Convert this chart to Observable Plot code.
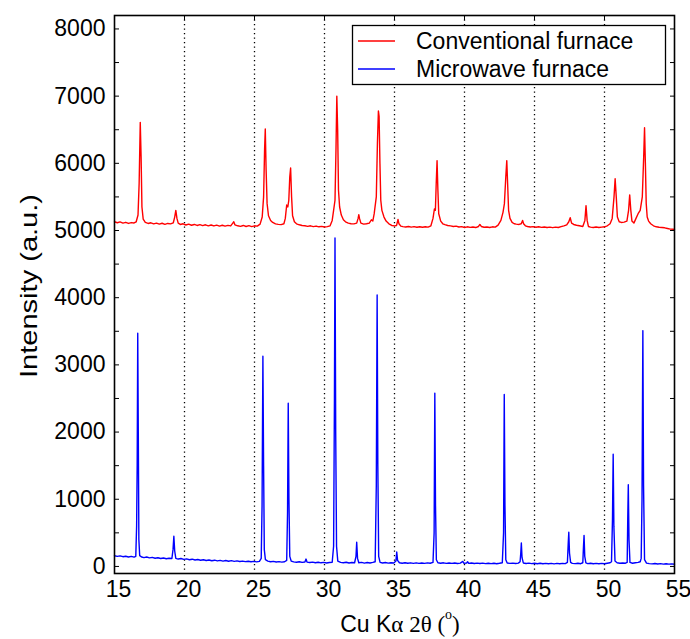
<!DOCTYPE html>
<html><head><meta charset="utf-8">
<script src="https://cdn.jsdelivr.net/npm/d3@7"></script>
<script src="https://cdn.jsdelivr.net/npm/@observablehq/plot@0.6"></script>
<style>body{margin:0;background:#fff} #chart{width:690px;height:639px}</style>
</head><body><div id="chart"></div>
<script>
// [2θ (deg), intensity (a.u.)]
const conventionalXRD = [
[15.0,5130],[15.2,5115],[15.4,5128],[15.6,5110],[15.8,5122],[16.0,5105],[16.2,5118],[16.4,5112],[16.55,5130],[16.68,5230],[16.76,5700],[16.84,6610],[16.9,6100],[16.96,5350],[17.05,5170],[17.2,5120],[17.4,5105],[17.6,5115],[17.8,5098],[18.0,5110],[18.2,5095],[18.4,5108],[18.6,5092],[18.8,5105],[19.0,5098],[19.2,5115],[19.3,5200],[19.38,5300],[19.46,5180],[19.55,5110],[19.7,5090],[19.9,5100],
[20.1,5082],[20.3,5095],[20.5,5078],[20.7,5090],[20.9,5075],[21.1,5088],[21.3,5072],[21.5,5085],[21.7,5070],[21.9,5082],[22.1,5068],[22.3,5080],[22.5,5066],[22.7,5078],[22.9,5065],[23.1,5076],[23.3,5068],[23.45,5110],[23.52,5130],[23.6,5085],[23.8,5070],[24.0,5062],[24.2,5075],[24.4,5060],[24.6,5072],[24.8,5058],[25.0,5070],[25.2,5065],[25.4,5095],[25.55,5200],[25.65,5500],[25.72,6200],[25.77,6510],[25.83,5900],[25.9,5400],[26.0,5220],[26.15,5150],[26.3,5120],[26.5,5098],[26.7,5092],[26.9,5088],[27.1,5100],[27.2,5180],[27.3,5380],[27.38,5350],[27.45,5450],[27.52,5800],[27.58,5930],[27.65,5500],[27.72,5220],[27.85,5130],[28.0,5100],[28.2,5085],[28.4,5075],[28.6,5070],[28.8,5062],[29.0,5070],[29.2,5058],[29.4,5066],[29.6,5055],[29.8,5062],
[30.0,5052],[30.2,5058],[30.4,5070],[30.55,5150],[30.65,5300],[30.75,5450],[30.82,6200],[30.88,7000],[30.94,6500],[31.0,5600],[31.08,5350],[31.2,5230],[31.35,5160],[31.5,5130],[31.7,5110],[31.9,5100],[32.1,5098],[32.3,5110],[32.4,5180],[32.45,5235],[32.5,5180],[32.6,5110],[32.8,5095],[33.0,5100],[33.2,5110],[33.35,5160],[33.45,5140],[33.55,5250],[33.7,5500],[33.78,6300],[33.85,6780],[33.9,6700],[33.96,6000],[34.02,5450],[34.1,5300],[34.25,5200],[34.4,5140],[34.6,5100],[34.8,5075],[35.0,5068],[35.15,5075],[35.25,5165],[35.32,5100],[35.45,5065],[35.6,5058],[35.8,5052],[36.0,5060],[36.2,5050],[36.4,5058],[36.6,5048],[36.8,5056],[37.0,5048],[37.2,5055],[37.4,5050],[37.6,5070],[37.75,5180],[37.85,5320],[37.92,5300],[37.98,5700],[38.04,6040],[38.1,5600],[38.16,5250],[38.3,5140],[38.45,5100],[38.6,5088],[38.8,5075],[39.0,5068],[39.2,5060],[39.4,5065],[39.6,5052],[39.8,5058],
[40.0,5045],[40.2,5055],[40.4,5046],[40.6,5052],[40.8,5044],[41.0,5060],[41.1,5090],[41.2,5060],[41.4,5048],[41.6,5052],[41.8,5045],[42.0,5055],[42.2,5050],[42.4,5080],[42.6,5150],[42.75,5270],[42.85,5400],[42.95,5800],[43.02,6040],[43.08,5700],[43.15,5300],[43.25,5180],[43.4,5120],[43.55,5100],[43.7,5095],[43.9,5090],[44.05,5100],[44.15,5150],[44.22,5100],[44.35,5070],[44.5,5060],[44.7,5052],[44.9,5058],[45.1,5048],[45.3,5055],[45.5,5046],[45.7,5052],[45.9,5044],[46.1,5050],[46.3,5042],[46.5,5050],[46.7,5045],[46.9,5058],[47.1,5070],[47.3,5085],[47.45,5130],[47.55,5190],[47.65,5110],[47.8,5090],[48.0,5078],[48.2,5070],[48.45,5060],[48.6,5150],[48.68,5370],[48.76,5150],[48.85,5060],[49.0,5050],[49.2,5045],[49.4,5052],[49.6,5044],[49.8,5050],
[50.0,5055],[50.2,5070],[50.4,5100],[50.55,5180],[50.68,5500],[50.76,5770],[50.84,5500],[50.92,5200],[51.05,5130],[51.2,5120],[51.4,5125],[51.6,5140],[51.72,5300],[51.8,5530],[51.88,5300],[51.96,5140],[52.1,5110],[52.25,5180],[52.4,5250],[52.55,5300],[52.7,5500],[52.8,6100],[52.86,6530],[52.92,6000],[52.98,5400],[53.05,5200],[53.15,5140],[53.3,5100],[53.5,5070],[53.7,5055],[53.9,5048],[54.1,5045],[54.3,5040],[54.5,5030],[54.7,5020],[54.9,5018],[55.0,5015]
];
const microwaveXRD = [
[15.0,160],[15.2,150],[15.4,158],[15.6,145],[15.8,152],[16.0,140],[16.2,150],[16.4,138],[16.52,150],[16.58,600],[16.62,1500],[16.66,3470],[16.7,2000],[16.74,400],[16.8,160],[16.95,140],[17.1,132],[17.3,140],[17.5,128],[17.7,135],[17.9,122],[18.1,130],[18.3,118],[18.5,126],[18.7,115],[18.9,122],[19.1,118],[19.18,250],[19.24,450],[19.3,230],[19.38,120],[19.55,110],[19.75,118],[19.95,105],
[20.15,112],[20.35,100],[20.55,108],[20.75,96],[20.95,104],[21.15,92],[21.35,100],[21.55,88],[21.75,96],[21.95,85],[22.15,93],[22.35,82],[22.55,90],[22.75,80],[22.95,88],[23.15,78],[23.35,86],[23.55,76],[23.75,83],[23.95,74],[24.15,80],[24.35,72],[24.55,78],[24.75,70],[24.95,76],[25.15,68],[25.35,75],[25.48,120],[25.54,900],[25.6,3130],[25.65,1500],[25.7,250],[25.78,100],[25.95,80],[26.15,70],[26.35,76],[26.55,66],[26.75,72],[26.95,64],[27.15,70],[27.3,90],[27.36,800],[27.41,2430],[27.46,1000],[27.52,150],[27.62,80],[27.8,68],[28.0,62],[28.2,70],[28.4,60],[28.6,66],[28.68,110],[28.75,65],[28.95,58],[29.15,64],[29.35,55],[29.55,62],[29.75,54],[29.95,60],
[30.15,52],[30.35,58],[30.55,62],[30.65,300],[30.71,2500],[30.75,4890],[30.8,2000],[30.86,300],[30.95,80],[31.15,60],[31.35,55],[31.55,62],[31.75,52],[31.95,58],[32.15,55],[32.25,150],[32.3,360],[32.36,120],[32.45,55],[32.65,60],[32.85,50],[33.05,58],[33.25,52],[33.45,60],[33.62,70],[33.7,1200],[33.76,4040],[33.81,1500],[33.87,150],[33.97,60],[34.15,52],[34.35,58],[34.55,50],[34.75,56],[34.95,52],[35.1,80],[35.16,215],[35.22,90],[35.35,55],[35.55,48],[35.75,55],[35.95,47],[36.15,54],[36.35,46],[36.55,53],[36.75,45],[36.95,52],[37.15,46],[37.35,53],[37.55,47],[37.75,60],[37.83,500],[37.88,2580],[37.93,900],[37.99,100],[38.1,55],[38.3,48],[38.5,54],[38.7,46],[38.9,52],[39.1,45],[39.3,51],[39.5,44],[39.7,50],[39.88,75],[39.95,48],
[40.15,52],[40.22,70],[40.3,46],[40.5,52],[40.7,44],[40.9,50],[41.1,43],[41.3,49],[41.5,42],[41.7,48],[41.9,42],[42.1,48],[42.3,41],[42.5,47],[42.7,55],[42.79,500],[42.84,2560],[42.89,900],[42.95,100],[43.05,52],[43.25,45],[43.45,50],[43.65,43],[43.85,49],[43.97,70],[44.02,200],[44.06,348],[44.11,130],[44.2,52],[44.4,44],[44.6,49],[44.8,42],[45.0,48],[45.2,41],[45.4,47],[45.6,40],[45.8,46],[46.0,40],[46.2,46],[46.4,39],[46.6,45],[46.8,40],[47.0,46],[47.2,42],[47.35,60],[47.41,350],[47.45,510],[47.5,200],[47.58,60],[47.7,45],[47.9,42],[48.1,47],[48.3,41],[48.45,55],[48.5,300],[48.54,462],[48.59,150],[48.67,52],[48.8,42],[49.0,47],[49.2,40],[49.4,46],[49.6,40],[49.8,45],
[50.0,41],[50.2,48],[50.4,55],[50.5,70],[50.57,700],[50.62,1670],[50.67,600],[50.75,80],[50.9,55],[51.1,48],[51.3,52],[51.5,48],[51.62,60],[51.66,700],[51.7,1215],[51.75,400],[51.82,60],[52.0,48],[52.2,55],[52.4,60],[52.55,70],[52.62,120],[52.68,1000],[52.74,3510],[52.79,1200],[52.86,100],[53.0,50],[53.2,42],[53.4,38],[53.6,44],[53.8,36],[54.0,42],[54.2,35],[54.4,40],[54.6,34],[54.8,38],[55.0,33]
];
const seriesNames = ["Conventional furnace", "Microwave furnace"];
const seriesColors = ["#ff0000", "#0000ff"];
const xTicks = [15, 20, 25, 30, 35, 40, 45, 50, 55];
const xGridLines = [20, 25, 30, 35, 40, 45, 50];
const yTicks = [0, 1000, 2000, 3000, 4000, 5000, 6000, 7000, 8000];
const yMinorTicks = [0, 500, 1000, 1500, 2000, 2500, 3000, 3500, 4000, 4500, 5000, 5500, 6000, 6500, 7000, 7500, 8000];

const rows = [
  ...conventionalXRD.map(([t, v]) => ({series: seriesNames[0], t, v})),
  ...microwaveXRD.map(([t, v]) => ({series: seriesNames[1], t, v}))
];

const sans = "'Liberation Sans', Arial, Helvetica, sans-serif";
const serif = "'Liberation Serif', 'Times New Roman', serif";

const svg = Plot.plot({
  width: 690, height: 639,
  marginLeft: 114, marginRight: 16, marginTop: 15, marginBottom: 66,
  style: {fontFamily: sans, fontSize: "24px", color: "#000", background: "#fff", overflow: "visible"},
  x: {domain: [15, 55]},
  y: {domain: [-105, 8200]},
  color: {domain: seriesNames, range: seriesColors},
  marks: [
    Plot.gridX(xGridLines, {stroke: "#000", strokeOpacity: 1, strokeWidth: 1.3, strokeDasharray: "1.3,3.2"}),
    Plot.line(rows, {x: "t", y: "v", z: "series", stroke: "series", strokeWidth: 1.4}),
    Plot.axisY(yTicks, {tickSize: 0, tickPadding: 9, label: null, fontSize: 23, tickFormat: d3.format("d")}),
    Plot.axisY(yMinorTicks, {tickSize: -5, tickFormat: () => "", label: null}),
    Plot.axisY(yMinorTicks, {anchor: "right", tickSize: -5, tickFormat: () => "", label: null}),
    Plot.axisX(xTicks, {tickSize: 0, tickPadding: 7, label: null, fontSize: 23, dx: 4, tickFormat: d3.format("d")}),
    Plot.axisX(xTicks, {anchor: "top", tickSize: -4, tickFormat: () => "", label: null}),
    Plot.frame({stroke: "#000", strokeWidth: 1.6})
  ]
});
document.getElementById("chart").appendChild(svg);

const s = d3.select(svg);
// y-axis title
s.append("text")
  .attr("transform", "translate(28,286) rotate(-90)")
  .attr("text-anchor", "middle").attr("dominant-baseline", "central")
  .attr("font-family", sans).attr("font-size", 24).attr("fill", "#000")
  .attr("textLength", 184).attr("lengthAdjust", "spacingAndGlyphs")
  .text("Intensity (a.u.)");
// x-axis title
const xt = s.append("text")
  .attr("x", 400).attr("y", 624)
  .attr("text-anchor", "middle").attr("dominant-baseline", "central")
  .attr("font-size", 23).attr("fill", "#000");
xt.append("tspan").attr("font-family", sans).text("Cu K");
xt.append("tspan").attr("font-family", serif).text("α 2θ (");
xt.append("tspan").attr("font-family", serif).attr("font-size", 14).attr("dy", -10).text("o");
xt.append("tspan").attr("font-family", serif).attr("dy", 10).text(")");
// legend
const lg = s.append("g").attr("text-anchor", "start");
lg.append("rect").attr("x", 352.5).attr("y", 25.5).attr("width", 313).attr("height", 59)
  .attr("fill", "#fff").attr("stroke", "#000").attr("stroke-width", 1.3);
seriesNames.forEach((name, i) => {
  const yy = 41 + i * 28;
  lg.append("path").attr("d", `M358,${yy}H395`)
    .attr("fill", "none").attr("stroke", seriesColors[i]).attr("stroke-width", 1.3);
  lg.append("text").attr("x", 416).attr("y", yy).attr("dominant-baseline", "central")
    .attr("text-anchor", "start")
    .attr("font-family", sans).attr("font-size", 23).attr("fill", "#000").text(name);
});
</script>
</body></html>
